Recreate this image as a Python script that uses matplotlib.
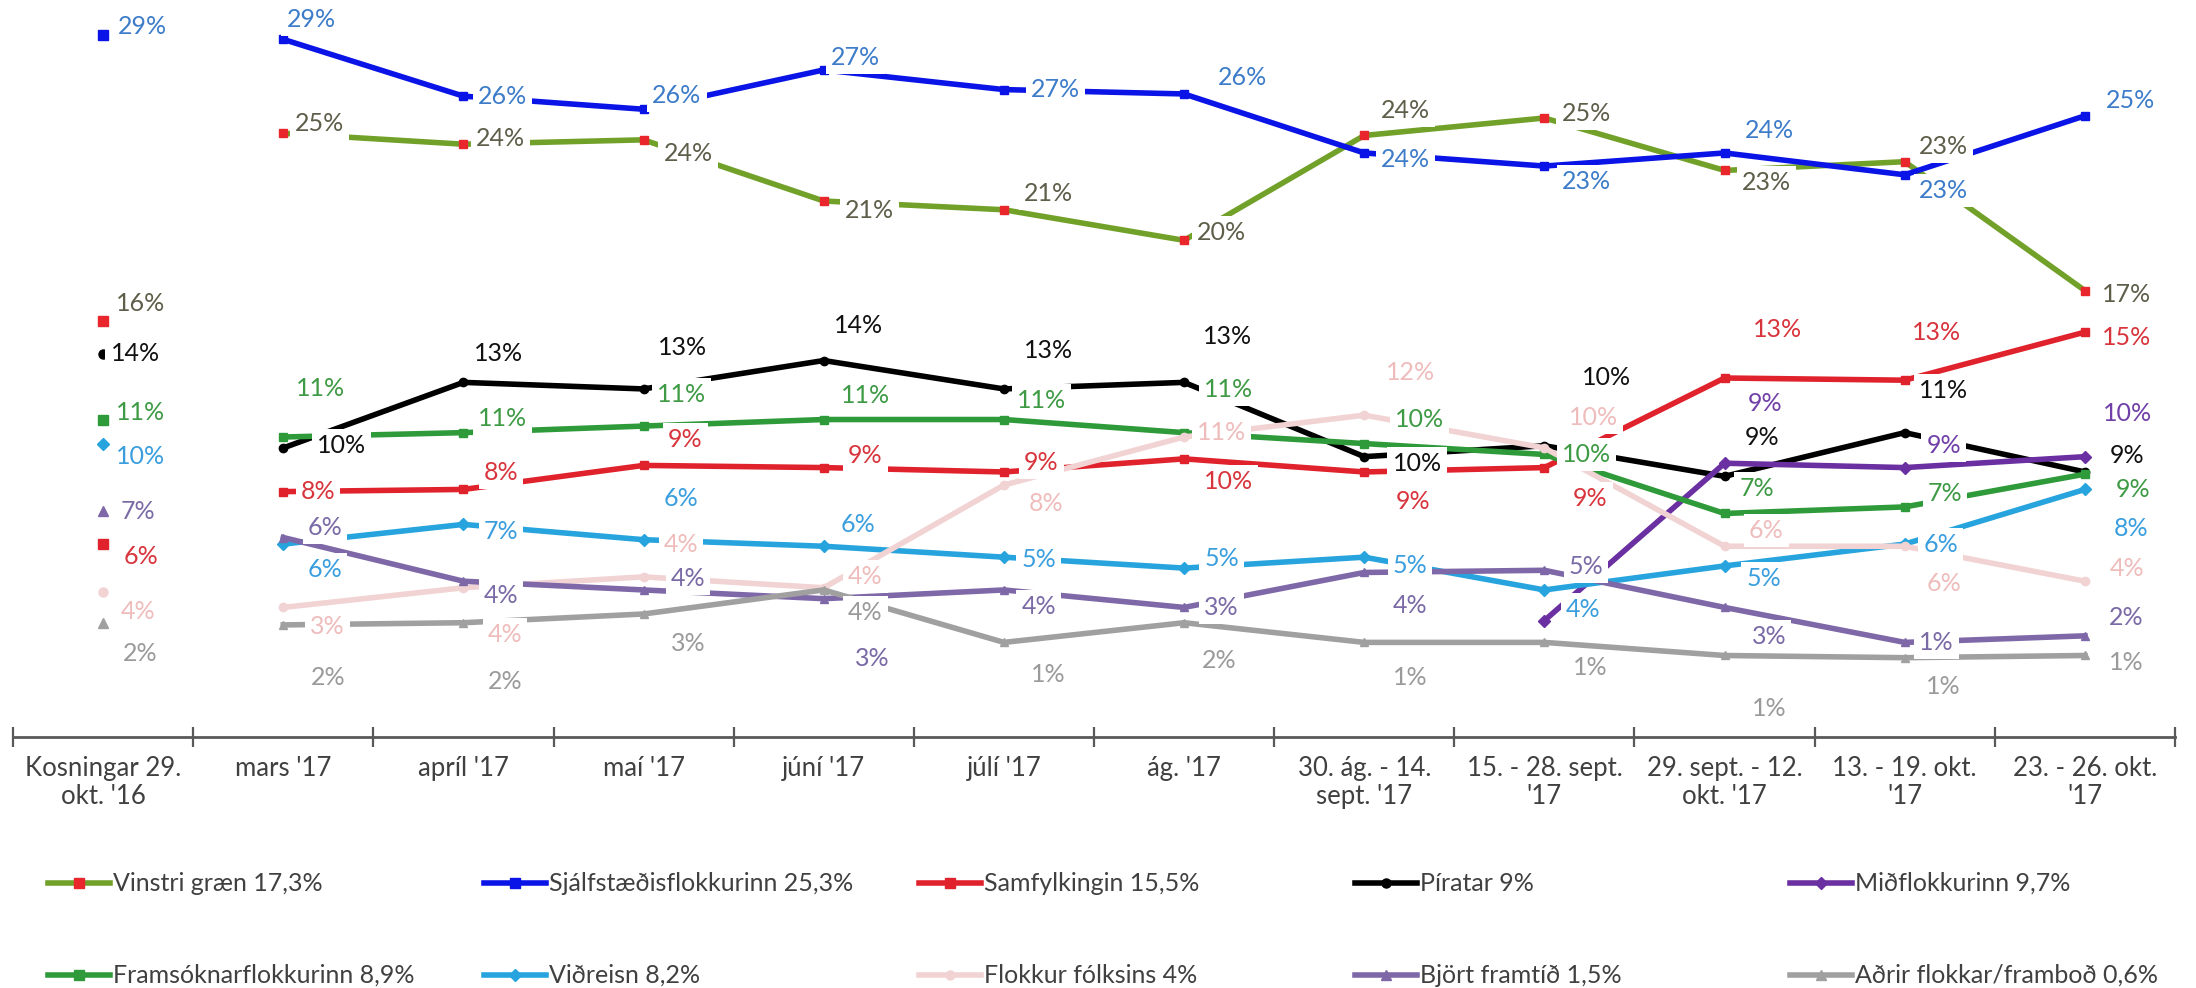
import numpy as np
import matplotlib
matplotlib.use("Agg")
import matplotlib.pyplot as plt
from matplotlib.lines import Line2D

plt.rcParams['font.family'] = ['Lato', 'DejaVu Sans']

nan = np.nan

categories = ["Kosningar 29.\nokt. '16", "mars '17", "apríl '17", "maí '17", "júní '17",
              "júlí '17", "ág. '17", "30. ág. - 14.\nsept. '17", "15. - 28. sept.\n'17",
              "29. sept. - 12.\nokt. '17", "13. - 19. okt.\n'17", "23. - 26. okt.\n'17"]

vinstri_graen = [15.9, 24.5, 24.0, 24.2, 21.4, 21.0, 19.6, 24.4, 25.2, 22.8, 23.2, 17.3]
sjalfstaedis = [29.0, 28.8, 26.2, 25.6, 27.4, 26.5, 26.3, 23.6, 23.0, 23.6, 22.6, 25.3]
samfylkingin = [5.7, 8.1, 8.2, 9.3, 9.2, 9.0, 9.6, 9.0, 9.2, 13.3, 13.2, 15.4]
piratar = [14.4, 10.1, 13.1, 12.8, 14.1, 12.8, 13.1, 9.7, 10.2, 8.8, 10.8, 9.0]
midflokkurinn = [nan, nan, nan, nan, nan, nan, nan, nan, 2.2, 9.4, 9.2, 9.7]
framsokn = [11.4, 10.6, 10.8, 11.1, 11.4, 11.4, 10.8, 10.3, 9.8, 7.1, 7.4, 8.9]
vidreisn = [10.3, 5.7, 6.6, 5.9, 5.6, 5.1, 4.6, 5.1, 3.6, 4.7, 5.7, 8.2]
flokkur_folksins = [3.5, 2.8, 3.7, 4.2, 3.7, 8.4, 10.6, 11.6, 10.1, 5.6, 5.6, 4.0]
bjort_framtid = [7.2, 6.0, 4.0, 3.6, 3.2, 3.6, 2.8, 4.4, 4.5, 2.8, 1.2, 1.5]
adrir = [2.1, 2.0, 2.1, 2.5, 3.6, 1.2, 2.1, 1.2, 1.2, 0.6, 0.5, 0.6]

legend_names = ["Vinstri græn 17,3%", "Sjálfstæðisflokkurinn 25,3%", "Samfylkingin 15,5%",
                "Píratar 9%", "Miðflokkurinn 9,7%", "Framsóknarflokkurinn 8,9%", "Viðreisn 8,2%",
                "Flokkur fólksins 4%", "Björt framtíð 1,5%", "Aðrir flokkar/framboð 0,6%"]

# label offsets in points (dx, dy downward)
off_v = [(27, -13), (26, -7), (27, -4), (32, 10), (33, 7), (32, -12), (27, -6), (30, -18), (30, -3), (30, 9), (28, -11), (30, 3)]
off_d = [(28, -6), (20, -14), (28, 0), (24, -10), (23, -9), (37, 0), (42, -12), (30, 5), (30, 11), (32, -16), (28, 11), (33, -11)]
off_s = [(27, 9), (25, 0), (27, -12), (30, -19), (30, -9), (27, -7), (32, 16), (35, 21), (33, 22), (38, -35), (23, -34), (30, 4)]
off_p = [(23, 0), (42, -2), (25, -21), (28, -30), (25, -25), (32, -28), (31, -33), (38, 5), (45, -49), (27, -28), (28, -30), (30, -12)]
off_m = [None] * 9 + [(29, -43), (28, -16), (31, -31)]
off_b = [(27, -5), (27, -35), (28, -10), (27, -23), (30, -17), (27, -14), (32, -31), (40, -17), (30, 0), (23, -18), (29, -10), (35, 11)]
off_c = [(27, 9), (30, 18), (27, 5), (27, -30), (25, -16), (25, 2), (27, -7), (33, 6), (28, 14), (28, 9), (26, 0), (33, 28)]
off_f = [(25, 14), (32, 14), (30, 34), (27, -23), (30, -8), (30, 13), (27, -3), (33, -31), (35, -22), (30, -11), (28, 27), (30, -9)]
off_bf = [(25, 0), (30, -7), (27, 10), (32, -8), (35, 43), (25, 12), (27, 0), (33, 24), (30, -3), (32, 21), (23, 0), (30, -13)]
off_a = [(27, 22), (32, 38), (30, 42), (32, 21), (30, 16), (32, 23), (25, 27), (33, 25), (33, 18), (32, 38), (28, 21), (30, 5)]

# (values, line colour, marker, marker colour, label colour, offsets)
series = [
    (vinstri_graen, '#72a12a', 's', '#e8262b', '#5e5e4a', off_v),
    (sjalfstaedis, '#0a14e6', 's', '#0a14e6', '#3d7cc9', off_d),
    (samfylkingin, '#e0222c', 's', '#e0222c', '#d8343c', off_s),
    (piratar, '#000000', 'o', '#000000', '#111111', off_p),
    (midflokkurinn, '#6a2fa0', 'D', '#6a2fa0', '#7040a8', off_m),
    (framsokn, '#2f9a3a', 's', '#2f9a3a', '#3e9a44', off_b),
    (vidreisn, '#27a4dd', 'D', '#27a4dd', '#3a9ede', off_c),
    (flokkur_folksins, '#f2d3d3', 'o', '#f2d3d3', '#efbcbc', off_f),
    (bjort_framtid, '#7e68a8', '^', '#7e68a8', '#7a6aa6', off_bf),
    (adrir, '#a0a0a0', '^', '#a0a0a0', '#9a9a9a', off_a),
]

fig = plt.figure(figsize=(21.96, 9.88), dpi=100)
ax = fig.add_axes([13 / 2196, 1 - 737 / 988, 2162 / 2196, 737 / 988])

x = np.arange(len(categories))
for vals, lc, mk, mc, tc, offs in series:
    v = np.array(vals, dtype=float)
    ax.plot(x[1:], v[1:], color=lc, lw=4.0, marker=mk, ms=6, mfc=mc, mec=mc, zorder=2)
    ax.plot(x[:1], v[:1], ls='none', marker=mk, ms=6.5, mfc=mc, mec=mc, zorder=2)
    for i, val in enumerate(v):
        if np.isnan(val) or offs[i] is None:
            continue
        dx, dy = offs[i]
        ax.annotate(f"{int(val + 0.5)}%", (x[i], val), xytext=(dx, -dy),
                    textcoords='offset points', ha='center', va='center',
                    fontsize=18, color=tc, zorder=4,
                    bbox=dict(boxstyle='square,pad=0.2', fc='white', ec='none'))

ax.set_xlim(-0.5, len(categories) - 0.5)
ax.set_ylim(-3.13, 30.6)
for s in ['top', 'left', 'right']:
    ax.spines[s].set_visible(False)
ax.spines['bottom'].set_color('#595959')
ax.spines['bottom'].set_linewidth(2)
ax.set_yticks([])
ax.set_xticks(x)
ax.set_xticklabels(categories, fontsize=18.5, color='#404040', linespacing=1.15)
ax.set_xticks(np.arange(-0.5, len(categories), 1.0), minor=True)
ax.tick_params(axis='x', which='major', length=0, pad=14)
ax.tick_params(axis='x', which='minor', direction='inout', length=14, width=1.6, color='#595959')

# legend, 2 rows x 5 columns
col_x = [48, 484, 919, 1355, 1790]
row_y = [883, 975]
for k, (vals, lc, mk, mc, tc, offs) in enumerate(series):
    r, c = divmod(k, 5)
    x0 = col_x[c] / 2196
    x1 = (col_x[c] + 62) / 2196
    y0 = 1 - row_y[r] / 988
    fig.add_artist(Line2D([x0, x1], [y0, y0], transform=fig.transFigure, color=lc, lw=4.0))
    fig.add_artist(Line2D([(x0 + x1) / 2], [y0], transform=fig.transFigure, ls='none',
                          marker=mk, ms=6.5, mfc=mc, mec=mc))
    fig.text(x1 + 3 / 2196, y0, legend_names[k], fontsize=18, color='#404040',
             ha='left', va='center')

fig.savefig('out.png', dpi=100)
